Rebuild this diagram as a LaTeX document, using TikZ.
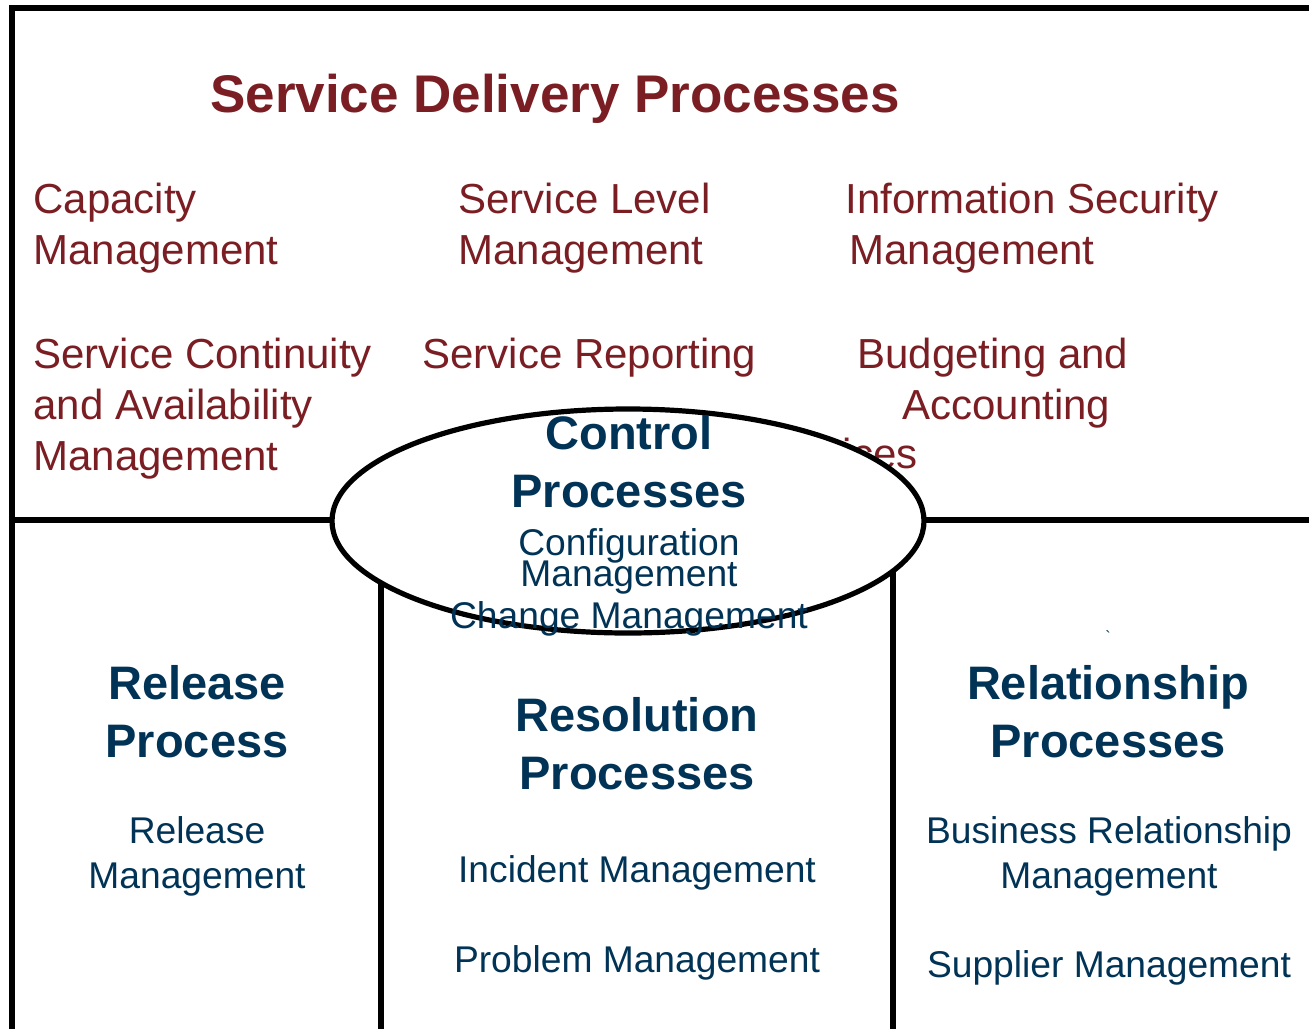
\documentclass[tikz,border=0pt]{standalone}
\usepackage{fontspec}
\setmainfont{Liberation Sans}
\usetikzlibrary{shapes.geometric}
\definecolor{sdred}{RGB}{122,30,35}
\definecolor{ctblue}{RGB}{0,51,85}
\begin{document}
\begin{tikzpicture}[x=0.5pt, y=-0.5pt]
    \tikzstyle{frame} = [draw, line width=2.6pt]
    \tikzstyle{title} = [inner sep=0, text=sdred, font=\fontsize{26.5}{30}\selectfont\bfseries]
    \tikzstyle{proc} = [inner sep=0, text=sdred, align=left, font=\fontsize{21}{25.5}\selectfont]
    \tikzstyle{group} = [inner sep=0, text=ctblue, align=center, font=\fontsize{23.5}{29}\selectfont\bfseries]
    \tikzstyle{item} = [inner sep=0, text=ctblue, align=center, font=\fontsize{18.6}{22.2}\selectfont]

    \useasboundingbox (0,0) rectangle (1309,1028);

    % frame lines
    \coordinate (tl) at (12,8);
    \coordinate (tr) at (1312,8);
    \coordinate (bl) at (12,1032);
    \coordinate (ml) at (12,520);
    \coordinate (mr) at (1312,520);
    \coordinate (lt) at (381,560);
    \coordinate (lb) at (381,1032);
    \coordinate (rt) at (893,560);
    \coordinate (rb) at (893,1032);
    \draw [frame] (tr) -- (tl) -- (bl);
    \draw [frame] (ml) -- (mr);
    \draw [frame] (lt) -- (lb);
    \draw [frame] (rt) -- (rb);

    % service delivery (base = last line)
    \node [title, anchor=base] (sdp) at (555,112) {Service Delivery Processes};
    \node [proc, anchor=base west] (cap) at (33,264) {Capacity\\Management};
    \node [proc, anchor=base west] (slm) at (458,264) {Service Level\\Management};
    \node [proc, anchor=base west] (ism) at (845,264) {Information Security\\\hspace*{2pt}Management};
    \node [proc, anchor=base west] (scm) at (33,470) {Service Continuity\\and Availability\\Management};
    \node [proc, anchor=base west] (srp) at (422,368) {Service Reporting};
    \node [proc, anchor=base west] (bud) at (857,419) {Budgeting and\\\hspace*{22.5pt}Accounting};
    \node [proc, anchor=base east] (svc) at (918,468) {Services};

    % control
    \node [ellipse, draw, line width=2.6pt, fill=white, minimum width=296pt, minimum height=112pt] (ctrl) at (628,521) {};
    \node [group, anchor=base] (cph) at (629,507) {Control\\Processes};
    \node [item, anchor=base] (cfg) at (629,586) {Configuration\\[-6.7pt]Management};
    \node [item, anchor=base] (chg) at (629,628) {Change Management};

    % release
    \node [group, anchor=base] (rph) at (197,757) {Release\\Process};
    \node [item, anchor=base] (rlm) at (197,888) {Release\\Management};

    % resolution
    \node [group, anchor=base] (rsh) at (637,789) {Resolution\\Processes};
    \node [item, anchor=base] (inc) at (637,882) {Incident Management};
    \node [item, anchor=base] (prb) at (637,972) {Problem Management};

    % relationship
    \node [item, anchor=base, font=\fontsize{8}{8}\selectfont] (tick) at (1108,642) {\textasciigrave};
    \node [group, anchor=base] (rlh) at (1108,757) {Relationship\\Processes};
    \node [item, anchor=base] (brm) at (1109,888) {Business Relationship\\Management};
    \node [item, anchor=base] (sup) at (1109,977) {Supplier Management};
\end{tikzpicture}
\end{document}
